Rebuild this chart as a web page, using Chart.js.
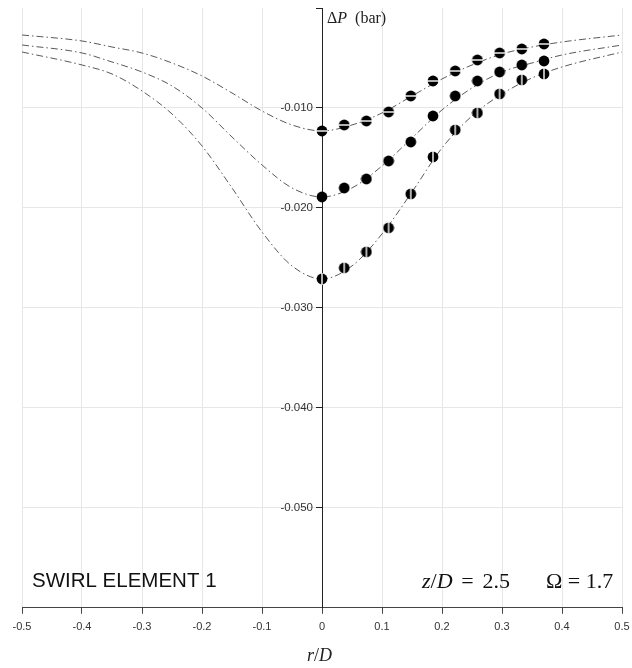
<!DOCTYPE html>
<html>
<head>
<meta charset="utf-8">
<script src="https://cdn.jsdelivr.net/npm/chart.js@4.4.0/dist/chart.umd.min.js"></script>
<style>
  html, body { margin: 0; padding: 0; background: #fff; }
  #wrap { width: 632px; height: 668px; }
</style>
</head>
<body>
<div id="wrap"><canvas id="chart"></canvas></div>
<script>
// measured points (r/D)
const pointX = [0, 0.037, 0.074, 0.111, 0.148, 0.185, 0.222, 0.259, 0.296, 0.333, 0.370];
const pointsTop = [-0.0123, -0.0117, -0.0113, -0.0104, -0.0088, -0.0073, -0.0063, -0.0052, -0.0045, -0.0041, -0.0036];
const pointsMid = [-0.0189, -0.0180, -0.0171, -0.0153, -0.0134, -0.0108, -0.0088, -0.0073, -0.0064, -0.0057, -0.0053];
const pointsLow = [-0.0271, -0.0260, -0.0244, -0.0220, -0.0186, -0.0149, -0.0122, -0.0105, -0.0086, -0.0072, -0.0066];

// fitted curves
const curveX = [-0.5, -0.4, -0.35, -0.3, -0.25, -0.2, -0.15, -0.1, -0.05, 0, 0.05, 0.1, 0.15, 0.2, 0.25, 0.3, 0.35, 0.4, 0.5];
const curveTop = [-0.0027, -0.0033, -0.0039, -0.0045, -0.0055, -0.0068, -0.0085, -0.0103, -0.0117, -0.0123, -0.0117, -0.0105, -0.0088, -0.0071, -0.0057, -0.0046, -0.0039, -0.0034, -0.0027];
const curveMid = [-0.0037, -0.0045, -0.0054, -0.0064, -0.0078, -0.0100, -0.0129, -0.0157, -0.0180, -0.0189, -0.0180, -0.0158, -0.0130, -0.0102, -0.0080, -0.0064, -0.0055, -0.0047, -0.0037];
const curveLow = [-0.0044, -0.0057, -0.0066, -0.0083, -0.0106, -0.0138, -0.0180, -0.0224, -0.0258, -0.0271, -0.0258, -0.0226, -0.0184, -0.0140, -0.0108, -0.0086, -0.0070, -0.0059, -0.0044];

const xTicks = [-0.5, -0.4, -0.3, -0.2, -0.1, 0, 0.1, 0.2, 0.3, 0.4, 0.5];
const yLabels = ['-0.010', '-0.020', '-0.030', '-0.040', '-0.050'];

const toXY = (xs, ys) => xs.map((x, i) => ({ x: x, y: ys[i] }));

// marker: black dot with a white stripe (none / horizontal / vertical)
function makeMarker(stripe) {
    const c = document.createElement('canvas');
    c.width = 12; c.height = 12;
    const g = c.getContext('2d');
    g.fillStyle = '#000';
    g.beginPath();
    g.arc(6, 6, 5.4, 0, Math.PI * 2);
    g.fill();
    g.strokeStyle = '#fff';
    g.lineWidth = 1.4;
    if (stripe === 'h') {
        g.beginPath(); g.moveTo(0, 6); g.lineTo(12, 6); g.stroke();
    } else if (stripe === 'v') {
        g.beginPath(); g.moveTo(6, 0); g.lineTo(6, 12); g.stroke();
    }
    return c;
}

const dashDot = [7, 3, 1.5, 3];

function curveSet(ys) {
    return {
        data: toXY(curveX, ys),
        showLine: true,
        borderColor: '#5a5a5a',
        borderWidth: 1,
        borderDash: dashDot,
        pointRadius: 0,
        tension: 0.4,
        cubicInterpolationMode: 'monotone',
        order: 2
    };
}

function pointSet(ys, stripe) {
    return {
        data: toXY(pointX, ys),
        showLine: false,
        pointStyle: makeMarker(stripe),
        pointRadius: 6,
        order: 1
    };
}

function drawRuns(ctx, x, y, runs) {
    runs.forEach(r => {
        ctx.font = r[1];
        ctx.fillText(r[0], x, y);
        x += ctx.measureText(r[0]).width;
    });
}

const labelsPlugin = {
    id: 'labels',
    afterDraw(chart) {
        const ctx = chart.ctx;
        const ys = chart.scales.y;
        const axisX = chart.scales.x.getPixelForValue(0);
        const serif = '"Liberation Serif", "DejaVu Serif", serif';
        ctx.save();
        // y tick labels, left of the centre axis
        ctx.fillStyle = '#333';
        ctx.font = '11.5px "Liberation Sans", Arial, sans-serif';
        ctx.textAlign = 'right';
        ctx.textBaseline = 'middle';
        yLabels.forEach(t => {
            ctx.fillText(t, axisX - 9, ys.getPixelForValue(parseFloat(t)));
        });
        ctx.fillStyle = '#222';
        ctx.textBaseline = 'alphabetic';
        ctx.textAlign = 'left';
        // y axis title
        drawRuns(ctx, axisX + 5, 23, [
            ['\u0394', '16px ' + serif],
            ['P', 'italic 16px ' + serif],
            ['  (bar)', '16px ' + serif]
        ]);
        // x axis title
        drawRuns(ctx, axisX - 15, 661, [
            ['r', 'italic 18px ' + serif],
            ['/', '18px ' + serif],
            ['D', 'italic 18px ' + serif]
        ]);
        // annotations
        ctx.font = '20.5px "Liberation Sans", Arial, sans-serif';
        ctx.fillStyle = '#111';
        ctx.fillText('SWIRL ELEMENT 1', 32, 587);
        drawRuns(ctx, 422, 588, [
            ['z', 'italic 22px ' + serif],
            ['/', '22px ' + serif],
            ['D', 'italic 22px ' + serif],
            ['\u2009\u2009=\u2009\u20092.5', '22px ' + serif]
        ]);
        drawRuns(ctx, 546, 588, [
            ['\u03A9 = 1.7', '22px ' + serif]
        ]);
        ctx.restore();
    }
};

new Chart(document.getElementById('chart'), {
    type: 'scatter',
    data: {
        datasets: [
            curveSet(curveTop),
            curveSet(curveMid),
            curveSet(curveLow),
            pointSet(pointsTop, 'h'),
            pointSet(pointsMid, ''),
            pointSet(pointsLow, 'v')
        ]
    },
    options: {
        responsive: true,
        maintainAspectRatio: false,
        animation: false,
        layout: { padding: { left: 22, right: 10, top: 8, bottom: 27 } },
        plugins: {
            legend: { display: false },
            tooltip: { enabled: false }
        },
        scales: {
            x: {
                type: 'linear',
                min: -0.5,
                max: 0.5,
                afterBuildTicks: axis => { axis.ticks = xTicks.map(v => ({ value: v })); },
                afterFit: axis => { axis.paddingLeft = 0; axis.paddingRight = 0; },
                ticks: {
                    color: '#333',
                    font: { size: 11, family: '"Liberation Sans", Arial, sans-serif' },
                    padding: 7,
                    maxRotation: 0,
                    callback: v => (v === 0 ? '0' : v.toFixed(1))
                },
                grid: { color: '#e6e6e6', tickColor: '#444', tickLength: 6 },
                border: { display: true, color: '#444', width: 1 }
            },
            y: {
                type: 'linear',
                min: -0.06,
                max: 0,
                position: { x: 0 },
                afterFit: axis => { axis.paddingTop = 0; axis.paddingBottom = 0; },
                ticks: {
                    stepSize: 0.01,
                    display: false
                },
                grid: {
                    color: c => (Math.abs(c.tick.value) < 1e-9 ? 'rgba(0,0,0,0)' : '#e6e6e6'),
                    tickColor: '#222',
                    tickLength: 6
                },
                border: { display: true, color: '#222', width: 1 }
            }
        }
    },
    plugins: [labelsPlugin]
});
</script>
</body>
</html>
